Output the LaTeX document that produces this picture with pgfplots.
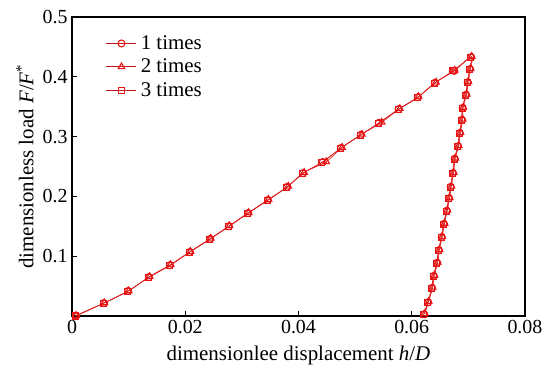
\documentclass[border=0pt]{standalone}
\usepackage{fontspec}
\setmainfont{Liberation Serif}
\usepackage{pgfplots}
\pgfplotsset{compat=1.18}
\definecolor{cline}{RGB}{220,30,30}
\definecolor{cmark}{RGB}{230,20,20}
\definecolor{clegend}{RGB}{190,20,30}
\begin{document}
\begin{tikzpicture}
\begin{axis}[
  scale only axis, width=453bp, height=299bp,
  xmin=0, xmax=0.08, ymin=0, ymax=0.5,
  scaled x ticks=false, scaled y ticks=false,
  xtick={0,0.02,0.04,0.06,0.08},
  xticklabels={0,0.02,0.04,0.06,0.08},
  ytick={0.1,0.2,0.3,0.4,0.5},
  yticklabels={0.1,0.2,0.3,0.4,0.5},
  tick align=inside, xtick pos=bottom, ytick pos=left,
  major tick length=5bp,
  axis line style={line width=1.6bp, black},
  tick style={line width=1.2bp, black},
  ticklabel style={font=\fontsize{20}{22}\selectfont},
  xticklabel style={yshift=-1bp},
  yticklabel style={xshift=-1bp},
  label style={font=\fontsize{21}{24}\selectfont},
  xlabel={dimensionlee displacement \textit{h}/\textit{D}},
  ylabel={dimensionless load \textit{F}/\textit{F}\textsuperscript{*}},
  xlabel style={at={(axis description cs:0.5,-0.133)}, anchor=center},
  ylabel style={at={(axis description cs:-0.104,0.5)}, anchor=center},
  legend style={draw=none, fill=none, at={(axis description cs:0.075,0.938)}, anchor=north west,
    font=\fontsize{21}{22}\selectfont, row sep=8bp, inner sep=0pt,
    nodes={inner xsep=4bp, inner ysep=0pt}},
  legend cell align=left,
  legend image code/.code={\draw[mark repeat=2,mark phase=2,clegend] plot coordinates {(0bp,0bp)(15bp,0bp)(30bp,0bp)};},
  every axis plot/.append style={line width=0.6bp},
  clip=false,
]
\coordinate (bbsw) at (rel axis cs:-0.159,-0.181);
\coordinate (bbne) at (rel axis cs:1.073,1.057);
\addplot[cline, smooth, mark=o, mark size=3.5bp, mark options={cmark, line width=1.1bp, fill=none}] coordinates {
(0.0007,0.000)(0.00565,0.0217)(0.0099,0.0418)(0.0136,0.065)(0.0173,0.085)(0.0208,0.107)
(0.0244,0.129)(0.0277,0.150)(0.0311,0.172)(0.0346,0.194)(0.0380,0.216)(0.0408,0.239)
(0.0443,0.2575)(0.0475,0.281)(0.0510,0.303)(0.0542,0.323)(0.0577,0.346)(0.0611,0.366)
(0.0641,0.390)(0.0675,0.410)(0.0705,0.433)
(0.0703,0.413)(0.0699,0.391)(0.0696,0.370)(0.0690,0.348)(0.0689,0.328)(0.0685,0.306)
(0.0682,0.284)(0.0676,0.263)(0.0673,0.239)(0.0669,0.216)(0.0666,0.197)(0.0662,0.176)
(0.0657,0.154)(0.0653,0.132)(0.0648,0.110)(0.0645,0.089)(0.0639,0.067)(0.0636,0.047)
(0.0629,0.023)(0.0622,0.003)
};
\addlegendentry{1 times}
\addplot[cline, smooth, mark=triangle, mark size=3.8bp, mark options={cmark, line width=1.1bp, fill=none}] coordinates {
(0.0007,0.001)(0.00570,0.0220)(0.0100,0.0420)(0.0137,0.066)(0.0174,0.086)(0.0209,0.108)
(0.0245,0.130)(0.0278,0.151)(0.0312,0.173)(0.0347,0.195)(0.0382,0.217)(0.0410,0.240)
(0.0449,0.2580)(0.0477,0.282)(0.0512,0.304)(0.0547,0.324)(0.0579,0.347)(0.0612,0.367)
(0.0643,0.391)(0.0676,0.411)(0.0706,0.434)
(0.0704,0.414)(0.0700,0.392)(0.0697,0.371)(0.0691,0.349)(0.0690,0.329)(0.0686,0.307)
(0.0683,0.285)(0.0677,0.264)(0.0674,0.240)(0.0670,0.217)(0.0667,0.198)(0.0663,0.177)
(0.0658,0.155)(0.0654,0.133)(0.0649,0.111)(0.0646,0.090)(0.0640,0.068)(0.0637,0.048)
(0.0630,0.024)(0.0623,0.004)
};
\addlegendentry{2 times}
\addplot[cline, smooth, mark=square, mark size=3bp, mark options={cmark, line width=1.1bp, fill=none}] coordinates {
(0.0006,0.000)(0.00560,0.0215)(0.0098,0.0415)(0.0135,0.064)(0.0172,0.084)(0.0207,0.106)
(0.0243,0.128)(0.0276,0.149)(0.0310,0.171)(0.0345,0.193)(0.0379,0.215)(0.0407,0.238)
(0.0441,0.2570)(0.0474,0.280)(0.0509,0.302)(0.0541,0.322)(0.0576,0.345)(0.0610,0.365)
(0.0640,0.389)(0.0673,0.410)(0.0704,0.432)
(0.0702,0.412)(0.0698,0.390)(0.0695,0.369)(0.0689,0.347)(0.0688,0.327)(0.0684,0.305)
(0.0681,0.283)(0.0675,0.262)(0.0672,0.238)(0.0668,0.215)(0.0665,0.196)(0.0661,0.175)
(0.0656,0.153)(0.0652,0.131)(0.0647,0.109)(0.0644,0.088)(0.0638,0.066)(0.0635,0.046)
(0.0628,0.022)(0.0621,0.002)
};
\addlegendentry{3 times}
\end{axis}
\path (bbsw) rectangle (bbne);
\end{tikzpicture}
\end{document}
